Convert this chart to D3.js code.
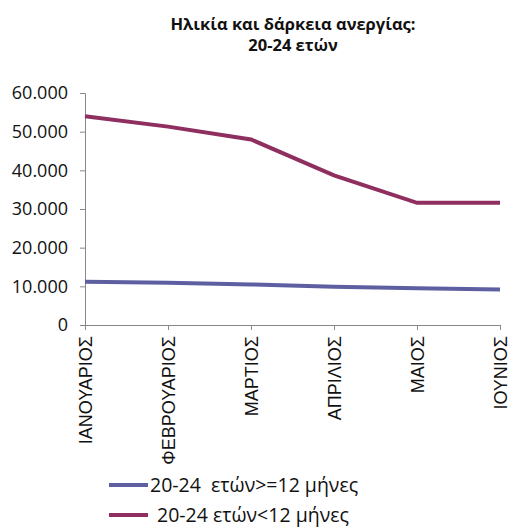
<!DOCTYPE html>
<html>
<head>
<meta charset="utf-8">
<script src="https://cdn.jsdelivr.net/npm/d3@7"></script>
<style>
  body { margin: 0; background: #fff; }
  #canvas svg { display: block; }
</style>
</head>
<body>
<div id="canvas"></div>
<script>
const months = ["ΙΑΝΟΥΑΡΙΟΣ", "ΦΕΒΡΟΥΑΡΙΟΣ", "ΜΑΡΤΙΟΣ", "ΑΠΡΙΛΙΟΣ", "ΜΑΙΟΣ", "ΙΟΥΝΙΟΣ"];
const longTerm = [11200, 10900, 10500, 9900, 9500, 9200];   // >=12 months
const shortTerm = [54000, 51300, 48000, 38700, 31600, 31600]; // <12 months
const yTicks = [0, 10000, 20000, 30000, 40000, 50000, 60000];
const seriesNames = ["20-24  ετών>=12 μήνες", "20-24 ετών<12 μήνες"];

const W = 511, H = 527;
const margin = { top: 93, right: 11, bottom: 202, left: 85 },
    width = W - margin.left - margin.right,
    height = H - margin.top - margin.bottom;

const root = d3.select("#canvas")
    .append("svg")
    .attr("width", W)
    .attr("height", H);

// Title
["Ηλικία και δάρκεια ανεργίας:", "20-24 ετών"].forEach((t, i) => {
    root.append("text")
        .attr("x", 293).attr("y", 30 + i * 21)
        .attr("text-anchor", "middle")
        .attr("font-family", "'Open Sans', sans-serif")
        .attr("font-weight", "bold")
        .attr("font-size", 16.5)
        .attr("fill", "#111")
        .text(t);
});

const svg = root.append("g")
    .attr("transform", `translate(${margin.left},${margin.top})`);

const x = d3.scalePoint()
    .domain(months)
    .range([0, width]);

const y = d3.scaleLinear()
    .domain([0, 60000])
    .range([height, 0]);

const fmt = d => d3.format(",")(d).replace(/,/g, ".");

// Y axis
const yAxis = svg.append("g")
    .call(d3.axisLeft(y).tickValues(yTicks).tickFormat(fmt).tickSize(5).tickPadding(12));
yAxis.select(".domain").attr("stroke", "#888");
yAxis.selectAll(".tick line").attr("stroke", "#888");
yAxis.selectAll(".tick text")
    .attr("font-family", "'Open Sans', sans-serif")
    .attr("font-size", 18)
    .attr("fill", "#111");

// X axis
const xAxis = svg.append("g")
    .attr("transform", `translate(0,${height})`)
    .call(d3.axisBottom(x).tickSize(5).tickSizeOuter(0));
xAxis.select(".domain").attr("stroke", "#888");
xAxis.selectAll(".tick line").attr("stroke", "#888");
xAxis.selectAll(".tick text")
    .attr("font-family", "'Liberation Sans', Arial, sans-serif")
    .attr("font-size", 18)
    .attr("fill", "#111")
    .attr("text-anchor", "end")
    .attr("dy", "0.35em")
    .attr("transform", "translate(0,4) rotate(-90)")
    .attr("x", -7)
    .attr("y", 0);

const colors = ["#5d5fa1", "#8f2f60"];
const series = [longTerm, shortTerm];

const line = d3.line()
    .x((d, i) => x(months[i]))
    .y(d => y(d));

series.forEach((s, k) => {
    svg.append("path")
        .datum(s)
        .attr("fill", "none")
        .attr("stroke", colors[k])
        .attr("stroke-width", 4)
        .attr("d", line);
});

// Legend
const legend = root.append("g");
seriesNames.forEach((name, k) => {
    const ly = 485 + k * 30;
    legend.append("line")
        .attr("x1", 109).attr("x2", 148)
        .attr("y1", ly).attr("y2", ly)
        .attr("stroke", colors[k])
        .attr("stroke-width", 4);
    legend.append("text")
        .attr("x", k === 0 ? 150 : 157).attr("y", ly)
        .attr("dy", "0.35em")
        .attr("font-family", "'Open Sans', sans-serif")
        .attr("font-size", 19.5)
        .attr("fill", "#111")
        .attr("xml:space", "preserve")
        .style("white-space", "pre")
        .text(name);
});
</script>
</body>
</html>
